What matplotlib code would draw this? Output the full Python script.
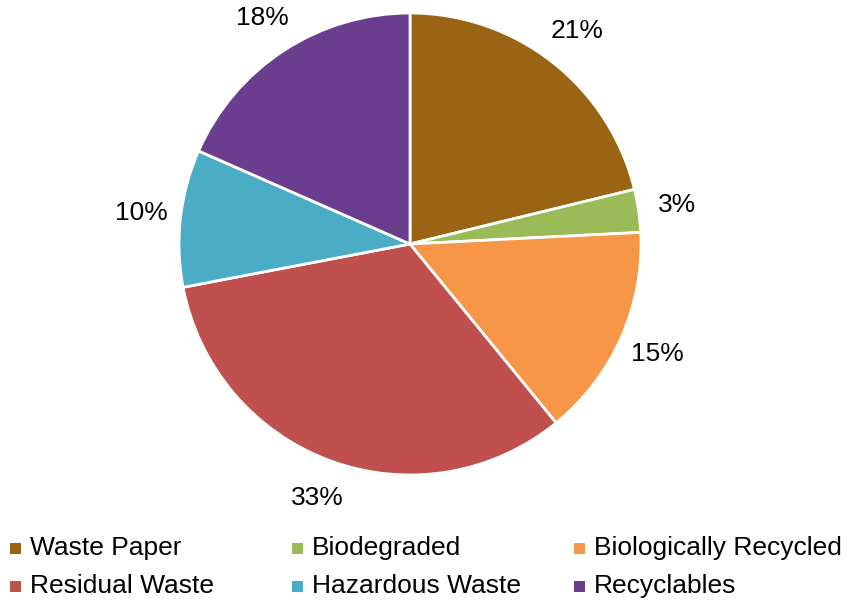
import matplotlib.pyplot as plt
from matplotlib.patches import Rectangle

plt.rcParams['font.family'] = ['Liberation Sans', 'DejaVu Sans']

# data
categories = ['Waste Paper', 'Biodegraded', 'Biologically Recycled',
              'Residual Waste', 'Hazardous Waste', 'Recyclables']
shares = [21.2, 3.0, 14.9, 32.9, 9.6, 18.4]
colors = ['#996515', '#9BBB59', '#F79646', '#C0504D', '#4BACC6', '#6A3D8F']

W, H = 848, 601
fig = plt.figure(figsize=(W / 100, H / 100), dpi=100)

# pie axes: centre ~(410, 244) px, radius ~231 px
cx, cy, r = 410, 244, 231
ax = fig.add_axes([(cx - r) / W, (H - cy - r) / H, 2 * r / W, 2 * r / H])
wedges, texts = ax.pie(shares, colors=colors, startangle=90, counterclock=False,
                       labels=[f'{v:.0f}%' for v in shares], labeldistance=1.17,
                       wedgeprops=dict(edgecolor='white', linewidth=2),
                       textprops=dict(fontsize=19, color='black'))
for t in texts:
    t.set_ha('center')
    t.set_va('center')
ax.set_xlim(-1, 1)
ax.set_ylim(-1, 1)
ax.set_aspect('equal')
ax.axis('off')

# legend drawn by hand: 3 equal-width columns, 2 rows (Excel style)
col_x = [10, 292, 574]
row_y = [548, 586]
box = 11
for i, (name, c) in enumerate(zip(categories, colors)):
    x = col_x[i % 3]
    y = row_y[i // 3]
    fig.patches.append(Rectangle((x / W, (H - y - box / 2) / H), box / W, box / H,
                                 transform=fig.transFigure, facecolor=c,
                                 edgecolor='none'))
    fig.text((x + box + 9) / W, (H - y) / H, name, fontsize=19,
             va='center', ha='left', color='black')

fig.savefig('out.png', dpi=100)
